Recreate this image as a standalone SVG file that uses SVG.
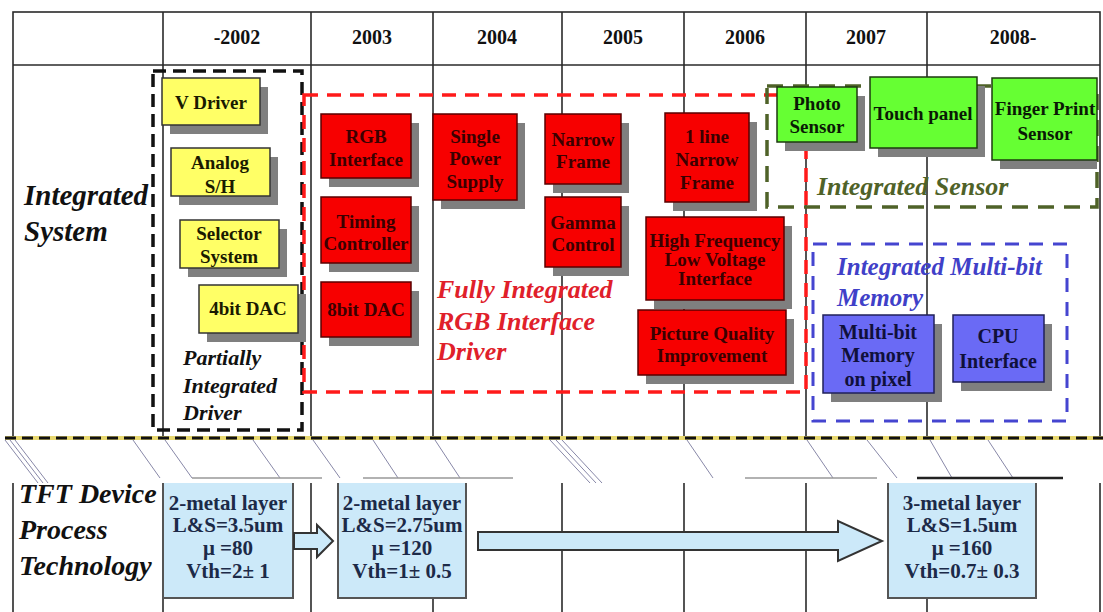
<svg xmlns="http://www.w3.org/2000/svg" width="1103" height="612" viewBox="0 0 1103 612">
<style>
.grid{stroke:#2a2a2a;stroke-width:1.6;fill:none}
.yr{font-family:"Liberation Serif",serif;font-weight:bold;font-size:20px;text-anchor:middle;fill:#111}
.t{font-family:"Liberation Serif",serif;font-weight:bold;text-anchor:middle}
.lab{font-family:"Liberation Serif",serif;font-weight:bold;font-style:italic}
.sh{fill:#7f7f7f}
.yel{fill:#ffff66;stroke:#333;stroke-width:1.5}
.red{fill:#f70000;stroke:#5a0000;stroke-width:1.5}
.grn{fill:#66ff33;stroke:#1e3a10;stroke-width:1.5}
.blu{fill:#6a6af5;stroke:#20205a;stroke-width:1.5}
.lb{fill:#cce9f9;stroke:#555;stroke-width:2}
.rt{font-size:19px;fill:#3a0000}
.yt{font-size:19px;fill:#1a1a00}
.gt{font-size:19px;fill:#0a1a05}
.bt{font-size:20px;fill:#10103a}
.lt{font-size:21px;fill:#1c2a48}
.gl{stroke:#8888a8;stroke-width:1;fill:none}
</style>
<rect width="1103" height="612" fill="#fff"/>

<!-- table grid -->
<g id="grid" class="grid">
<rect x="13" y="12" width="1087" height="640"/>
<line x1="13" y1="65" x2="1100" y2="65"/>
<line x1="163" y1="12" x2="163" y2="612"/>
<line x1="311" y1="12" x2="311" y2="612"/>
<line x1="433" y1="12" x2="433" y2="612"/>
<line x1="562" y1="12" x2="562" y2="612"/>
<line x1="684" y1="12" x2="684" y2="612"/>
<line x1="806" y1="12" x2="806" y2="612"/>
<line x1="927" y1="12" x2="927" y2="612"/>
</g>
<g id="years">
<text class="yr" x="237" y="44">-2002</text>
<text class="yr" x="372" y="44">2003</text>
<text class="yr" x="497" y="44">2004</text>
<text class="yr" x="623" y="44">2005</text>
<text class="yr" x="745" y="44">2006</text>
<text class="yr" x="866" y="44">2007</text>
<text class="yr" x="1013" y="44">2008-</text>
</g>

<g id="label-integrated-system">
<text class="lab" x="24" y="205" font-size="29" fill="#111">Integrated</text>
<text class="lab" x="24" y="241" font-size="29" fill="#111">System</text>
</g>

<!-- group frames -->
<g id="partially-integrated-driver">
<rect x="153" y="71" width="149" height="359" fill="none" stroke="#111" stroke-width="3.5" stroke-dasharray="13 7"/>
<text class="lab" x="183" y="365" font-size="22" fill="#111">Partially</text>
<text class="lab" x="183" y="393" font-size="22" fill="#111">Integrated</text>
<text class="lab" x="183" y="420" font-size="22" fill="#111">Driver</text>
</g>
<g id="fully-integrated-rgb">
<rect x="304" y="95" width="502" height="297" fill="none" stroke="#ff1a1a" stroke-width="3.5" stroke-dasharray="14 9"/>
<text class="lab" x="437" y="298" font-size="26" fill="#e0202a">Fully Integrated</text>
<text class="lab" x="437" y="330" font-size="26" fill="#e0202a">RGB Interface</text>
<text class="lab" x="437" y="360" font-size="26" fill="#e0202a">Driver</text>
</g>
<g id="integrated-sensor">
<rect x="767" y="86" width="330" height="121" fill="none" stroke="#4f6228" stroke-width="3.5" stroke-dasharray="16 10"/>
<text class="lab" x="817" y="195" font-size="26" fill="#4f6228">Integrated Sensor</text>
</g>
<g id="integrated-memory">
<rect x="813" y="244" width="254" height="177" fill="none" stroke="#4545d0" stroke-width="3" stroke-dasharray="14 10"/>
<text class="lab" x="837" y="275" font-size="25" fill="#4040c8">Integrated Multi-bit</text>
<text class="lab" x="837" y="306" font-size="25" fill="#4040c8">Memory</text>
</g>

<!-- yellow nodes -->
<g id="v-driver"><rect class="sh" x="170" y="87" width="98" height="47"/><rect class="yel" x="162" y="78" width="98" height="47"/><text class="t yt" x="211" y="109">V Driver</text></g>
<g id="analog-sh"><rect class="sh" x="179" y="157" width="99" height="48"/><rect class="yel" x="171" y="148" width="99" height="48"/><text class="t yt" x="220" y="169">Analog</text><text class="t yt" x="220" y="193">S/H</text></g>
<g id="selector-system"><rect class="sh" x="188" y="229" width="99" height="48"/><rect class="yel" x="180" y="220" width="99" height="48"/><text class="t yt" x="229" y="240">Selector</text><text class="t yt" x="229" y="263">System</text></g>
<g id="dac4"><rect class="sh" x="207" y="294" width="99" height="48"/><rect class="yel" x="199" y="285" width="99" height="48"/><text class="t yt" x="248" y="315">4bit DAC</text></g>

<!-- red nodes -->
<g id="rgb-interface"><rect class="sh" x="329" y="123" width="90" height="64"/><rect class="red" x="321" y="114" width="90" height="64"/><text class="t rt" x="366" y="143">RGB</text><text class="t rt" x="366" y="166">Interface</text></g>
<g id="timing-controller"><rect class="sh" x="329" y="206" width="90" height="66"/><rect class="red" x="321" y="197" width="90" height="66"/><text class="t rt" x="366" y="228">Timing</text><text class="t rt" x="366" y="250">Controller</text></g>
<g id="dac8"><rect class="sh" x="329" y="291" width="90" height="55"/><rect class="red" x="321" y="282" width="90" height="55"/><text class="t rt" x="366" y="316">8bit DAC</text></g>
<g id="single-power-supply"><rect class="sh" x="441" y="123" width="84" height="86"/><rect class="red" x="433" y="114" width="84" height="86"/><text class="t rt" x="475" y="143">Single</text><text class="t rt" x="475" y="165">Power</text><text class="t rt" x="475" y="188">Supply</text></g>
<g id="narrow-frame"><rect class="sh" x="553" y="123" width="76" height="70"/><rect class="red" x="545" y="114" width="76" height="70"/><text class="t rt" x="583" y="146">Narrow</text><text class="t rt" x="583" y="168">Frame</text></g>
<g id="gamma-control"><rect class="sh" x="553" y="206" width="76" height="70"/><rect class="red" x="545" y="197" width="76" height="70"/><text class="t rt" x="583" y="229">Gamma</text><text class="t rt" x="583" y="251">Control</text></g>
<g id="line-narrow-frame"><rect class="sh" x="673" y="122" width="84" height="89"/><rect class="red" x="665" y="113" width="84" height="89"/><text class="t rt" x="707" y="143">1 line</text><text class="t rt" x="707" y="166">Narrow</text><text class="t rt" x="707" y="189">Frame</text></g>
<g id="hf-lv-interface"><rect class="sh" x="654" y="226" width="138" height="83"/><rect class="red" x="646" y="217" width="138" height="83"/><text class="t rt" x="715" y="247" font-size="15">High Frequency</text><text class="t rt" x="715" y="266" font-size="15">Low Voltage</text><text class="t rt" x="715" y="285" font-size="15">Interface</text></g>
<g id="picture-quality"><rect class="sh" x="646" y="319" width="148" height="65"/><rect class="red" x="638" y="310" width="148" height="65"/><text class="t rt" x="712" y="340" font-size="20">Picture Quality</text><text class="t rt" x="712" y="362" font-size="20">Improvement</text></g>

<!-- green nodes -->
<g id="photo-sensor"><rect class="sh" x="785" y="96" width="80" height="55"/><rect class="grn" x="777" y="87" width="80" height="55"/><text class="t gt" x="817" y="110">Photo</text><text class="t gt" x="817" y="133">Sensor</text></g>
<g id="touch-panel"><rect class="sh" x="878" y="86" width="107" height="71"/><rect class="grn" x="870" y="77" width="107" height="71"/><text class="t gt" x="923" y="120" font-size="20">Touch panel</text></g>
<g id="finger-print-sensor"><rect class="sh" x="1000" y="87" width="97" height="82"/><rect class="grn" x="992" y="78" width="105" height="82"/><text class="t gt" x="1045" y="115" font-size="20">Finger Print</text><text class="t gt" x="1045" y="140">Sensor</text></g>

<!-- blue nodes -->
<g id="multibit-memory"><rect class="sh" x="831" y="324" width="111" height="78"/><rect class="blu" x="823" y="315" width="111" height="78"/><text class="t bt" x="878" y="339">Multi-bit</text><text class="t bt" x="878" y="362">Memory</text><text class="t bt" x="878" y="386">on pixel</text></g>
<g id="cpu-interface"><rect class="sh" x="961" y="324" width="91" height="67"/><rect class="blu" x="953" y="315" width="91" height="67"/><text class="t bt" x="998" y="343">CPU</text><text class="t bt" x="998" y="368">Interface</text></g>

<!-- lower row -->
<g id="label-tft">
<text class="lab" x="19" y="503" font-size="28" fill="#111">TFT Device</text>
<text class="lab" x="19" y="539" font-size="28" fill="#111">Process</text>
<text class="lab" x="19" y="575" font-size="28" fill="#111">Technology</text>
</g>
<g id="tft-2002"><rect class="lb" x="163" y="470" width="130" height="128"/><text class="t lt" x="228" y="510">2-metal layer</text><text class="t lt" x="228" y="532">L&amp;S=3.5um</text><text class="t lt" x="228" y="555">μ =80</text><text class="t lt" x="228" y="578">Vth=2± 1</text></g>
<g id="tft-2003"><rect class="lb" x="338" y="470" width="128" height="128"/><text class="t lt" x="402" y="510">2-metal layer</text><text class="t lt" x="402" y="532">L&amp;S=2.75um</text><text class="t lt" x="402" y="555">μ =120</text><text class="t lt" x="402" y="578">Vth=1± 0.5</text></g>
<g id="tft-2008"><rect class="lb" x="888" y="470" width="148" height="128"/><text class="t lt" x="962" y="510">3-metal layer</text><text class="t lt" x="962" y="532">L&amp;S=1.5um</text><text class="t lt" x="962" y="555">μ =160</text><text class="t lt" x="962" y="578">Vth=0.7± 0.3</text></g>

<g id="connectors" fill="#cce9f9" stroke="#333" stroke-width="2" stroke-linejoin="miter">
<polygon points="294,533 317,533 317,525 333,541 317,557 317,549 294,549"/>
<polygon points="478,532 838,532 838,521 882,541 838,561 838,550 478,550"/>
</g>

<!-- torn band -->
<g id="band">
<rect x="0" y="440" width="1103" height="43" fill="#fff"/>
<g class="gl">
<path d="M5 440 L38 483 M10 440 L43 483 M15 440 L48 483"/>
<path d="M133 440 L160 478 M165 440 L192 478 M253 440 L280 478 M313 440 L340 478"/>
<path d="M373 440 L398 478 M435 440 L460 478"/>
<path d="M550 440 L590 483 M556 440 L596 483 M562 440 L602 483"/>
<path d="M687 440 L713 478 M807 440 L833 478 M867 440 L897 478 M930 440 L952 478 M988 440 L1013 478"/>
<path d="M192 478 H322 M363 478 H513 M745 478 H877" stroke="#999" stroke-width="1.5"/>
</g>
<line x1="917" y1="478" x2="1063" y2="478" stroke="#222" stroke-width="2.5"/>
<line x1="5" y1="438" x2="1103" y2="438" stroke="#e8d870" stroke-width="4"/>
<line x1="5" y1="438" x2="1103" y2="438" stroke="#111" stroke-width="3" stroke-dasharray="11 6"/>
</g>
</svg>
